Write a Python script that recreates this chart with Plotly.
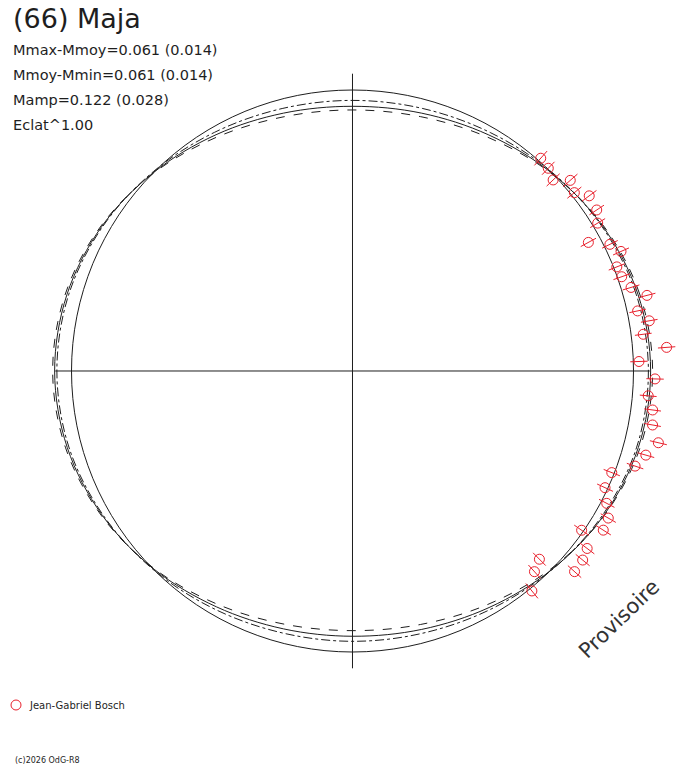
import plotly.graph_objects as go

# ---------------- text content ----------------
ASTEROID = "(66) Maja"
INFO_LINES = [
    "Mmax-Mmoy=0.061 (0.014)",
    "Mmoy-Mmin=0.061 (0.014)",
    "Mamp=0.122 (0.028)",
    "Eclat^1.00",
]
OBSERVER = "Jean-Gabriel Bosch"
COPYRIGHT = "(c)2026 OdG-R8"
WATERMARK = "Provisoire"

# ---------------- observations (phase angle in degrees, relative flux, flux error) ----------------
obs_phase_deg = [48.5, 46.0, 43.6, 41.2, 38.8, 36.5, 33.4, 31.1, 28.6, 26.2,
                 24.0, 21.5, 19.3, 16.7, 14.4, 11.9, 9.6, 7.2, 4.3, 1.9,
                 -1.5, -4.8, -7.4, -10.2, -13.2, -16.0, -18.6, -21.4, -24.8, -27.5,
                 -29.9, -34.8, -32.4, -37.1, -39.4, -42.1, -45.2, -47.8, -50.8]
obs_flux = [1.011, 1.003, 0.986, 1.030, 1.013, 1.048, 1.041, 1.019, 0.956, 1.021,
            1.046, 1.011, 1.015, 1.035, 1.082, 1.037, 1.071, 1.043, 1.121, 1.020,
            1.077, 1.056, 1.077, 1.085, 1.118, 1.086, 1.061, 0.991, 0.990, 1.020,
            1.050, 0.993, 1.057, 1.047, 1.060, 1.065, 0.944, 0.964, 1.010]
obs_err = [0.034, 0.032, 0.032, 0.034, 0.032, 0.032, 0.031, 0.031, 0.031, 0.031,
           0.031, 0.031, 0.031, 0.031, 0.031, 0.030, 0.030, 0.030, 0.031, 0.031,
           0.031, 0.030, 0.030, 0.030, 0.031, 0.031, 0.031, 0.031, 0.031, 0.031,
           0.031, 0.032, 0.032, 0.032, 0.032, 0.032, 0.032, 0.032, 0.034]

# ---------------- model lightcurves (read every 15 degrees) ----------------
model_phase_deg = [0, 15, 30, 45, 60, 75, 90, 105, 120, 135, 150, 165,
                   180, 195, 210, 225, 240, 255, 270, 285, 300, 315, 330, 345]
model_mid = [1.061, 1.052, 1.029, 0.999, 0.970, 0.950, 0.942, 0.950, 0.971, 1.000, 1.030, 1.052,
             1.060, 1.051, 1.028, 0.998, 0.969, 0.950, 0.944, 0.952, 0.972, 1.001, 1.031, 1.053]
model_wide = [1.068, 1.058, 1.032, 0.997, 0.961, 0.937, 0.929, 0.937, 0.962, 0.998, 1.033, 1.058,
              1.067, 1.057, 1.031, 0.996, 0.959, 0.933, 0.924, 0.934, 0.960, 0.997, 1.033, 1.059]
model_narrow = [1.053, 1.046, 1.026, 1.002, 0.980, 0.967, 0.963, 0.967, 0.981, 1.003, 1.027, 1.046,
                1.052, 1.045, 1.025, 1.001, 0.979, 0.965, 0.962, 0.966, 0.980, 1.002, 1.027, 1.047]

REFERENCE_FLUX = 1.0      # mean-brightness circle
AXIS_ARM = 1.058          # half length of the cross hair

# ---------------- geometry / style ----------------
PAGE_OFFSET = 8           # browser body margin
W, H = 688 - PAGE_OFFSET, 768 - PAGE_OFFSET
CX, CY = 352.5 - PAGE_OFFSET, 371.0 - PAGE_OFFSET   # centre of the diagram (figure px, from top)
UNIT_PX = 281.0           # pixels for relative flux 1.0
R_MAX = 1.17
RED = "rgb(232,32,44)"
INK = "#1e1e1e"
FONT = "DejaVu Sans"

rad_px = R_MAX * UNIT_PX
dom_x = [(CX - rad_px) / W, (CX + rad_px) / W]
cy_b = H - CY
dom_y = [(cy_b - rad_px) / H, (cy_b + rad_px) / H]


def px(x):
    return (x - PAGE_OFFSET) / W


def py(y):
    return 1 - (y - PAGE_OFFSET) / H


fig = go.Figure()


def closed(vals):
    return list(vals) + [vals[0]]


for vals, dash in [(model_wide, "dash"), (model_narrow, "dashdot"), (model_mid, "solid")]:
    fig.add_trace(go.Scatterpolar(
        r=closed(vals), theta=closed(model_phase_deg), mode="lines",
        line=dict(color=INK, width=1, dash=dash, shape="spline", smoothing=1.0),
        hoverinfo="skip", showlegend=False))

# cross hair
fig.add_trace(go.Scatterpolar(r=[AXIS_ARM, 0, AXIS_ARM], theta=[0, 0, 180], mode="lines",
                              line=dict(color=INK, width=1), hoverinfo="skip", showlegend=False))
fig.add_trace(go.Scatterpolar(r=[AXIS_ARM, 0, AXIS_ARM], theta=[90, 90, 270], mode="lines",
                              line=dict(color=INK, width=1), hoverinfo="skip", showlegend=False))

# radial error bars
eb_r, eb_t = [], []
for t, f, e in zip(obs_phase_deg, obs_flux, obs_err):
    eb_r += [f - e, f + e, None]
    eb_t += [t, t, None]
fig.add_trace(go.Scatterpolar(r=eb_r, theta=eb_t, mode="lines",
                              line=dict(color=RED, width=1), hoverinfo="skip", showlegend=False))

# observations
fig.add_trace(go.Scatterpolar(r=obs_flux, theta=obs_phase_deg, mode="markers", name=OBSERVER,
                              marker=dict(symbol="circle-open", size=10, color=RED,
                                          line=dict(color=RED, width=1)),
                              showlegend=False))

annotations = [
    dict(text=ASTEROID, x=px(11), y=py(19), xref="paper", yref="paper",
         xanchor="left", yanchor="middle", showarrow=False,
         font=dict(family=FONT, size=27, color=INK)),
]
for i, line in enumerate(INFO_LINES):
    annotations.append(dict(text=line, x=px(11), y=py(50 + 25 * i), xref="paper", yref="paper",
                            xanchor="left", yanchor="middle", showarrow=False,
                            font=dict(family=FONT, size=14.5, color=INK)))
annotations += [
    dict(text=OBSERVER, x=px(27), y=py(705), xref="paper", yref="paper",
         xanchor="left", yanchor="middle", showarrow=False,
         font=dict(family=FONT, size=10, color=INK)),
    dict(text=COPYRIGHT, x=px(13), y=py(760), xref="paper", yref="paper",
         xanchor="left", yanchor="middle", showarrow=False,
         font=dict(family=FONT, size=8, color=INK)),
    dict(text=WATERMARK, x=px(619), y=py(619), xref="paper", yref="paper",
         xanchor="center", yanchor="middle", showarrow=False, textangle=-44,
         font=dict(family=FONT, size=21, color="#333333")),
]

# legend symbol
lx, ly, lr = 16.0, 705.0, 5.0
shapes = [dict(type="circle", xref="paper", yref="paper",
               x0=px(lx - lr), x1=px(lx + lr), y0=py(ly + lr), y1=py(ly - lr),
               line=dict(color=RED, width=1))]

fig.update_layout(
    width=W, height=H, margin=dict(l=0, r=0, t=0, b=0),
    paper_bgcolor="white", plot_bgcolor="white", showlegend=False,
    annotations=annotations, shapes=shapes,
    polar=dict(
        domain=dict(x=dom_x, y=dom_y),
        bgcolor="white",
        radialaxis=dict(range=[0, R_MAX], tickvals=[REFERENCE_FLUX], showticklabels=False,
                        ticks="", showline=False, showgrid=True, gridcolor=INK, gridwidth=1),
        angularaxis=dict(rotation=0, direction="counterclockwise", showgrid=False,
                         showline=False, showticklabels=False, ticks=""),
    ),
)

fig.write_html("out.html")
